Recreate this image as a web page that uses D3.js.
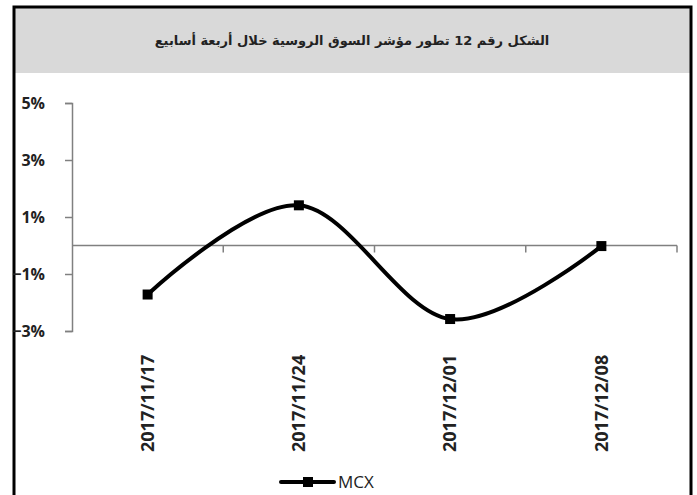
<!DOCTYPE html>
<html>
<head>
<meta charset="utf-8">
<script src="https://cdn.jsdelivr.net/npm/d3@7"></script>
<style>
  html, body { margin: 0; padding: 0; background: #fff; }
  svg { display: block; }
</style>
</head>
<body>
<div id="chart"></div>
<script>
// weekly change of the MCX index
const dates = ["2017/11/17", "2017/11/24", "2017/12/01", "2017/12/08"];
const mcx = [-0.0172, 0.0141, -0.0258, -0.0002];
const yTicks = [-0.03, -0.01, 0.01, 0.03, 0.05];
const title = "الشكل رقم 12 تطور مؤشر السوق الروسية خلال أربعة أسابيع";
const seriesName = "MCX";

const width = 697, height = 495;

const svg = d3.select("#chart").append("svg")
  .attr("width", width)
  .attr("height", height);

// frame + title band
svg.append("rect")
  .attr("x", 14).attr("y", 7)
  .attr("width", 677).attr("height", 66)
  .attr("fill", "#d9d9d9");

svg.append("rect")
  .attr("x", 14).attr("y", 7)
  .attr("width", 677).attr("height", 520)
  .attr("fill", "none")
  .attr("stroke", "#000")
  .attr("stroke-width", 3);

svg.append("text")
  .attr("x", 352).attr("y", 41)
  .attr("text-anchor", "middle")
  .attr("dominant-baseline", "middle")
  .attr("direction", "rtl")
  .style("font-family", "'DejaVu Sans', 'Noto Sans', sans-serif")
  .style("font-weight", "bold")
  .style("font-size", "13px")
  .style("fill", "#222")
  .text(title);

const x = d3.scaleBand().domain(dates).range([72, 677]).padding(0);
const y = d3.scaleLinear().domain([-0.03, 0.05]).range([331, 103]);

// y axis
const yAxis = svg.append("g")
  .attr("transform", "translate(72,0)")
  .call(d3.axisLeft(y).tickValues(yTicks).tickFormat(d3.format(".0%")).tickSize(7).tickPadding(20));
yAxis.select(".domain").attr("stroke", "#808080").attr("stroke-width", 1.5);
yAxis.selectAll(".tick line").attr("stroke", "#808080").attr("stroke-width", 1.5);
yAxis.selectAll("text")
  .style("font-family", "'Open Sans', sans-serif")
  .style("font-weight", "bold")
  .style("font-size", "16px")
  .style("fill", "#222");

// x axis along zero, ticks between categories
const y0 = y(0);
const bounds = dates.map(d => x(d)).concat([x.range()[1]]);
svg.append("line")
  .attr("x1", x.range()[0]).attr("x2", x.range()[1])
  .attr("y1", y0).attr("y2", y0)
  .attr("stroke", "#808080").attr("stroke-width", 1.5);
svg.selectAll(".xtick")
  .data(bounds.slice(1))
  .enter().append("line")
  .attr("x1", d => d).attr("x2", d => d)
  .attr("y1", y0).attr("y2", y0 + 7)
  .attr("stroke", "#808080").attr("stroke-width", 1.5);

svg.selectAll(".xlabel")
  .data(dates)
  .enter().append("text")
  .attr("transform", d => `translate(${x(d) + x.bandwidth() / 2},452) rotate(-90)`)
  .attr("dy", "0.35em")
  .style("font-family", "'Open Sans', sans-serif")
  .style("font-weight", "bold")
  .style("font-size", "18px")
  .style("fill", "#222")
  .text(d => d);

// series
const pts = dates.map((d, i) => [x(d) + x.bandwidth() / 2, y(mcx[i])]);
svg.append("path")
  .datum(pts)
  .attr("d", d3.line().curve(d3.curveCatmullRom.alpha(0)))
  .attr("fill", "none")
  .attr("stroke", "#000")
  .attr("stroke-width", 4);

svg.selectAll(".mark")
  .data(pts)
  .enter().append("rect")
  .attr("x", d => d[0] - 5).attr("y", d => d[1] - 5)
  .attr("width", 10).attr("height", 10)
  .attr("fill", "#000");

// legend
const lg = svg.append("g").attr("transform", "translate(281,482)");
lg.append("line")
  .attr("x1", 0).attr("x2", 53)
  .attr("stroke", "#000").attr("stroke-width", 4).attr("stroke-linecap", "round");
lg.append("rect")
  .attr("x", 22).attr("y", -5).attr("width", 10).attr("height", 10)
  .attr("fill", "#000");
lg.append("text")
  .attr("x", 57).attr("dy", "0.35em")
  .style("font-family", "'Open Sans', sans-serif")
  .style("font-size", "17px")
  .style("fill", "#222")
  .text(seriesName);
</script>
</body>
</html>
